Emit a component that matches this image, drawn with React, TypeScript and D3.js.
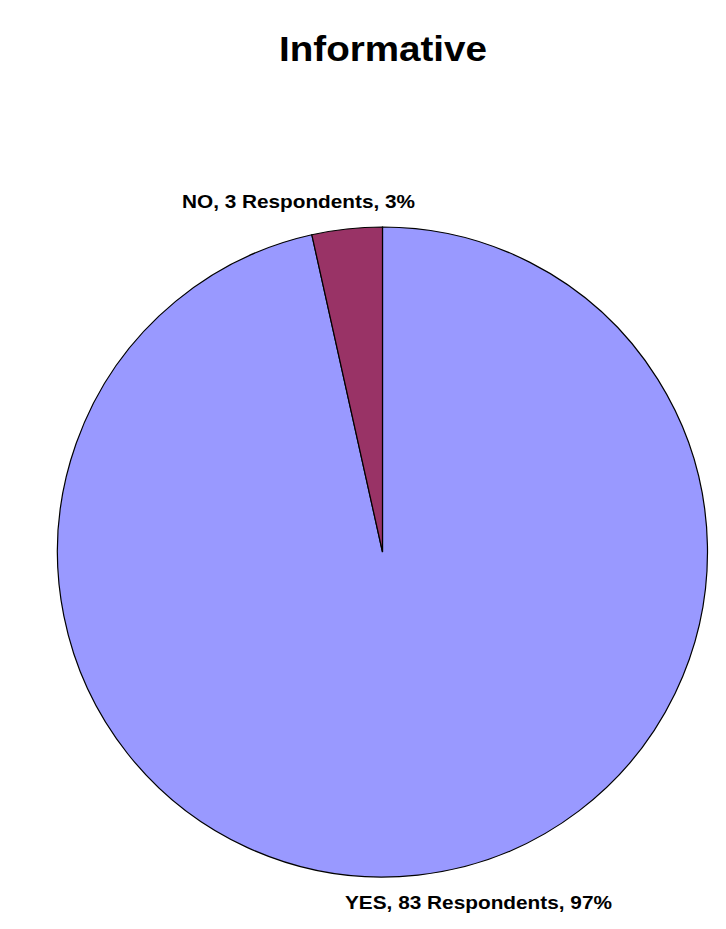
import React from "react";
import * as d3 from "d3";

const categories = ["YES", "NO"];
const respondents = [83, 3];
const percents = ["97%", "3%"];
const colors = ["#9999FF", "#993366"];
const title = "Informative";

const W = 726;
const H = 929;
const cx = 382.5;
const cy = 552;
const R = 325;

export default function App() {
  const pie = d3.pie<number>().sort(null).value((d) => d)(respondents);
  const arc = d3.arc<d3.PieArcDatum<number>>().innerRadius(0).outerRadius(R);
  const labelPos = [
    { x: 345, y: 909, len: 267 },
    { x: 182, y: 208, len: 233 },
  ];
  return (
    <svg width={W} height={H} style={{ position: "absolute", left: 0, top: 0 }}>
      <rect width={W} height={H} fill="#fff" />
      <text x={279} y={61} fontFamily="Liberation Sans, Arial, sans-serif" fontWeight="bold" fontSize={35} textLength={208} lengthAdjust="spacingAndGlyphs">{title}</text>
      <g transform={`translate(${cx},${cy})`}>
        {pie.map((p, i) => (
          <path key={i} d={arc(p) || ""} fill={colors[i]} stroke="#000" strokeWidth={1.2} />
        ))}
      </g>
      {pie.map((p, i) => (
        <text key={i} x={labelPos[i].x} y={labelPos[i].y} fontFamily="Liberation Sans, Arial, sans-serif" fontWeight="bold" fontSize={18} textLength={labelPos[i].len} lengthAdjust="spacingAndGlyphs">
          {`${categories[i]}, ${respondents[i]} Respondents, ${percents[i]}`}
        </text>
      ))}
    </svg>
  );
}
